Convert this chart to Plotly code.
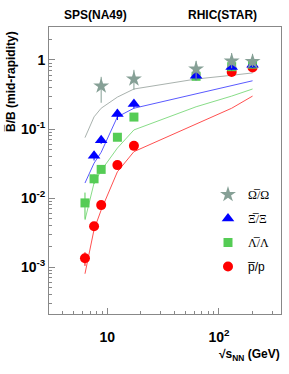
import plotly.graph_objects as go

# ---- data ----
omega_x = [8.8, 17.3, 62.4, 130, 200]
omega_y = [0.42, 0.53, 0.74, 0.96, 0.95]
omega_ep = [0.15, 0.19, 0.23, 0.30, 0.27]
omega_em = [0.18, 0.16, 0.24, 0.20, 0.16]

xi_x = [7.6, 8.8, 12.3, 17.3, 62.4, 130, 200]
xi_y = [0.041, 0.069, 0.165, 0.23, 0.59, 0.79, 0.85]
xi_e = [0.006, 0.008, 0.03, 0.03, 0.08, 0.08, 0.08]

lam_x = [6.3, 7.6, 8.8, 12.3, 17.3, 62.4, 130, 200]
lam_y = [0.0085, 0.019, 0.026, 0.076, 0.149, 0.58, 0.80, 0.87]
lam_e = [0.0035, 0.003, 0.003, 0.006, 0.01, 0.05, 0.05, 0.05]

p_x = [6.3, 7.6, 8.8, 12.3, 17.3, 130, 200]
p_y = [0.00134, 0.0039, 0.0079, 0.030, 0.057, 0.67, 0.78]
p_e = [0.0003, 0.0004, 0.0006, 0.002, 0.003, 0.03, 0.03]

model_x = [6.3, 7.6, 8.8, 12.3, 17.3, 62.4, 130, 200]
model_omega = [0.075, 0.15, 0.20, 0.29, 0.38, 0.53, 0.60, 0.65]
model_xi = [0.0165, 0.032, 0.046, 0.15, 0.20, 0.32, 0.42, 0.50]
model_lam = [0.0048, 0.0165, 0.025, 0.053, 0.097, 0.21, 0.30, 0.38]
model_p = [0.0008, 0.0035, 0.0067, 0.024, 0.047, 0.12, 0.20, 0.30]

y_tickvals = [1e-3, 1e-2, 1e-1, 1]
y_ticktext = ["10<sup>-3</sup>", "10<sup>-2</sup>", "10<sup>-1</sup>", "1"]
x_tickvals = [10, 100]
x_ticktext = ["10", "10<sup>2</sup>"]

c_om, c_xi, c_lam, c_p = "#86a096", "#0000ff", "#55cc55", "#ff0000"
l_om, l_xi, l_lam, l_p = "#a9b2ae", "#5a5aff", "#88dd88", "#ff5050"

FW, FH = 289, 374
L, R, T, B = 49, 281, 27, 314
W, H = R - L, B - T


def px(x):
    return (x - L) / W


def py(y):
    return (B - y) / H


fig = go.Figure()
for my, lc in [(model_omega, l_om), (model_xi, l_xi), (model_lam, l_lam), (model_p, l_p)]:
    fig.add_trace(go.Scatter(x=model_x, y=my, mode="lines",
                             line=dict(color=lc, width=1), showlegend=False, hoverinfo="skip"))

# drawn bottom to top: p, Lambda, Xi, Omega; legend ranks restore Omega-first order
fig.add_trace(go.Scatter(x=p_x, y=p_y, mode="markers",
                         marker=dict(symbol="circle", size=10, color=c_p),
                         error_y=dict(type="data", array=p_e, color=c_p, thickness=1, width=0),
                         name="p\u0305/p", legendgroup="d", legendrank=4))
fig.add_trace(go.Scatter(x=lam_x, y=lam_y, mode="markers",
                         marker=dict(symbol="square", size=9, color=c_lam),
                         error_y=dict(type="data", array=lam_e, color=c_lam, thickness=1, width=0),
                         name="<span style='font-family:Liberation Serif'>Λ\u0305/Λ</span>",
                         legendgroup="c", legendrank=3))
fig.add_trace(go.Scatter(x=xi_x, y=xi_y, mode="markers",
                         marker=dict(symbol="triangle-up", size=11, color=c_xi),
                         error_y=dict(type="data", array=xi_e, color=c_xi, thickness=1, width=0),
                         name="<span style='font-family:Liberation Serif'>Ξ\u0305/Ξ</span>",
                         legendgroup="b", legendrank=2))
fig.add_trace(go.Scatter(x=omega_x, y=omega_y, mode="markers",
                         marker=dict(symbol="star", size=12, color=c_om),
                         error_y=dict(type="data", symmetric=False, array=omega_ep, arrayminus=omega_em,
                                      color=c_om, thickness=1, width=0),
                         name="<span style='font-family:Liberation Serif'>Ω\u0305/Ω</span>",
                         legendgroup="a", legendrank=1))

axis_common = dict(showgrid=False, zeroline=False, showline=True, linecolor="#888888", linewidth=1,
                   mirror=True, ticks="inside", tickcolor="#888888", ticklen=6,
                   tickfont=dict(family="Liberation Sans", size=14, color="black", weight="bold"))
fig.update_xaxes(type="log", range=[0.477, 2.556], tickvals=x_tickvals, ticktext=x_ticktext,
                 minor=dict(ticks="inside", ticklen=3, tickcolor="#888888",
                            tickvals=[4, 5, 6, 7, 8, 9, 20, 30, 40, 50, 60, 70, 80, 90, 200, 300]),
                 ticklabelstandoff=10, automargin=False, **axis_common)
fig.update_yaxes(type="log", range=[-3.68, 0.478], tickvals=y_tickvals, ticktext=y_ticktext,
                 minor=dict(ticks="inside", ticklen=3, tickcolor="#888888",
                            tickvals=[m * d for d in [1e-4, 1e-3, 1e-2, 1e-1, 1] for m in range(2, 10)]),
                 automargin=False, **axis_common)

fig.update_layout(
    width=FW, height=FH, margin=dict(l=L, r=FW - R, t=T, b=FH - B, autoexpand=False),
    plot_bgcolor="white", paper_bgcolor="white",
    font=dict(family="Liberation Sans", size=12, color="black"),
    showlegend=True,
    legend=dict(x=px(208), y=py(180), xanchor="left", yanchor="top", bgcolor="rgba(0,0,0,0)",
                font=dict(size=12), tracegroupgap=5, traceorder="grouped", itemwidth=30),
    annotations=[
        dict(text="<b>SPS(NA49)</b>", x=px(95), y=py(15), xref="paper", yref="paper", showarrow=False,
             xanchor="center", yanchor="middle", font=dict(size=12)),
        dict(text="<b>RHIC(STAR)</b>", x=px(222), y=py(15), xref="paper", yref="paper", showarrow=False,
             xanchor="center", yanchor="middle", font=dict(size=12)),
        dict(text="<b>B\u0305/B (mid-rapidity)</b>", textangle=-90, x=px(11), y=py(82),
             xref="paper", yref="paper", xanchor="center", yanchor="middle", showarrow=False,
             font=dict(size=12)),
        dict(text="<b>√s<sub>NN</sub> (GeV)</b>", x=px(282), y=py(355), xref="paper", yref="paper",
             xanchor="right", yanchor="middle", showarrow=False, font=dict(size=12)),
    ],
)

fig.write_html("out.html", config={"displayModeBar": False},
               post_script="document.body.style.margin='0';")
